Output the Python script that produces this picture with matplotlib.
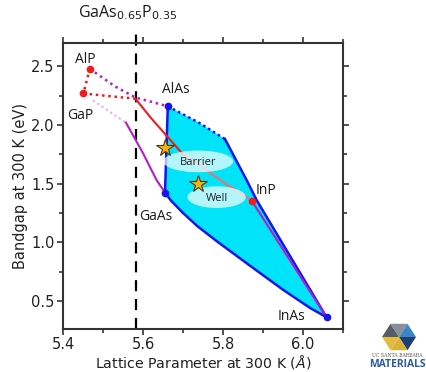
import numpy as np
import matplotlib
matplotlib.use('Agg')
import matplotlib.pyplot as plt
from matplotlib.patches import Ellipse, Polygon
from matplotlib.ticker import MultipleLocator

# binary compounds: lattice constant (A), bandgap (eV)
names = ['AlP', 'GaP', 'AlAs', 'GaAs', 'InP', 'InAs']
lat = {'AlP': 5.467, 'GaP': 5.451, 'AlAs': 5.662, 'GaAs': 5.655, 'InP': 5.872, 'InAs': 6.059}
gap = {'AlP': 2.48, 'GaP': 2.27, 'AlAs': 2.16, 'GaAs': 1.424, 'InP': 1.353, 'InAs': 0.36}

# GaInP (indirect part dotted, direct part solid)
gainp_ind_x = [5.451, 5.520, 5.581]
gainp_ind_y = [2.27, 2.245, 2.225]
gainp_x = [5.581, 5.620, 5.660, 5.700]
gainp_y = [2.225, 2.06, 1.905, 1.75]
gainp_fade_x = [5.700, 5.734, 5.770, 5.809, 5.872]
gainp_fade_y = [1.75, 1.68, 1.585, 1.495, 1.353]

# AlAsP (dotted)
alasp_x = [5.467, 5.530, 5.581, 5.662]
alasp_y = [2.48, 2.33, 2.235, 2.16]

# GaAsP
gaasp_ind_x = [5.475, 5.5575]
gaasp_ind_y = [2.21, 2.02]
gaasp_x = [5.5575, 5.600, 5.634, 5.655]
gaasp_y = [2.02, 1.76, 1.53, 1.424]

# InAsP
inasp_x = [5.872, 6.059]
inasp_y = [1.353, 0.36]

# AlInAs indirect (dotted) and direct edge
alinas_ind_x = [5.662, 5.740, 5.805]
alinas_ind_y = [2.16, 2.02, 1.88]
alinas_x = [5.805, 5.859, 5.884, 6.059]
alinas_y = [1.88, 1.531, 1.36, 0.36]

# AlGaAs edge
algaas_x = [5.662, 5.655]
algaas_y = [2.16, 1.424]

# GaInAs (bowed)
gainas_x = [5.655, 5.670, 5.700, 5.735, 5.784, 5.8675, 5.950, 6.0175, 6.059]
gainas_y = [1.424, 1.355, 1.25, 1.14, 1.01, 0.80, 0.595, 0.44, 0.36]

stars_x = [5.655, 5.738]
stars_y = [1.80, 1.50]

gaasp_line = 5.582

red = '#ee1c1c'
blue = '#1414f0'
purple = '#b41ec8'
cyan = '#00e3f8'
ann_font = ['Open Sans', 'DejaVu Sans']

plt.rcParams['font.family'] = 'DejaVu Sans'
fig = plt.figure(figsize=(4.26, 3.72), dpi=100)
ax = fig.add_axes([63/426, 1 - 329/372, 280/426, 286/372])

# filled quaternary region
poly_x = algaas_x[:1] + alinas_ind_x[1:] + alinas_x[1:] + gainas_x[::-1][1:]
poly_y = algaas_y[:1] + alinas_ind_y[1:] + alinas_y[1:] + gainas_y[::-1][1:]
ax.add_patch(Polygon(np.column_stack([poly_x, poly_y]), closed=True,
                     facecolor=cyan, edgecolor='none', zorder=1))

ax.plot(gainas_x, gainas_y, color=blue, lw=1.8, zorder=3)
ax.plot(alinas_x, alinas_y, color=blue, lw=1.8, zorder=3)
ax.plot(alinas_ind_x, alinas_ind_y, color=blue, lw=1.8, ls=(0, (1, 1.3)), zorder=3)
ax.plot(algaas_x, algaas_y, color=blue, lw=1.8, zorder=3)

ax.plot(gaasp_ind_x, gaasp_ind_y, color='#e8a8ec', lw=1.5, ls=(0, (1, 1.5)), zorder=3)
ax.plot(gaasp_x, gaasp_y, color=purple, lw=1.5, zorder=3)
ax.plot(inasp_x, inasp_y, color=purple, lw=1.5, zorder=4)
ax.plot(alasp_x, alasp_y, color=purple, lw=1.8, ls=(0, (1, 1.5)), zorder=3)

ax.plot([lat['AlP'], lat['GaP']], [gap['AlP'], gap['GaP']], color=red, lw=1.8,
        ls=(0, (1, 1.5)), zorder=3)
ax.plot(gainp_ind_x, gainp_ind_y, color=red, lw=1.8, ls=(0, (1, 1.5)), zorder=3)
ax.plot(gainp_x, gainp_y, color=red, lw=1.5, zorder=3)
ax.plot(gainp_fade_x, gainp_fade_y, color='#f07070', lw=1.5, zorder=3)

for n in names:
    c = red if n in ('AlP', 'GaP', 'InP') else blue
    ax.plot(lat[n], gap[n], 'o', color=c, ms=4.5, zorder=6)

ax.axvline(gaasp_line, ymin=0, ymax=1.055, color='black', lw=1.6, ls=(0, (5, 3.5)),
           zorder=2, clip_on=False)

ax.add_patch(Ellipse((5.738, 1.69), 0.175, 0.185, facecolor='white', alpha=0.7,
                     edgecolor='none', zorder=5))
ax.add_patch(Ellipse((5.784, 1.385), 0.146, 0.185, facecolor='white', alpha=0.7,
                     edgecolor='none', zorder=5))
ax.text(5.738, 1.68, 'Barrier', fontsize=8, ha='center', va='center', color='#222222',
        zorder=7, family=ann_font)
ax.text(5.784, 1.375, 'Well', fontsize=8, ha='center', va='center', color='#222222',
        zorder=7, family=ann_font)

ax.plot(stars_x, stars_y, '*', ms=13, mfc='#f6b40e', mec='#4a3a10', mew=0.8, zorder=8)

lbl_pos = {'AlP': (5.455, 2.56), 'GaP': (5.443, 2.08), 'AlAs': (5.683, 2.30),
           'GaAs': (5.633, 1.22), 'InP': (5.907, 1.445), 'InAs': (5.972, 0.37)}
for n in names:
    ax.text(lbl_pos[n][0], lbl_pos[n][1], n, fontsize=10, ha='center', va='center',
            color='#1a1a1a', zorder=9, family=ann_font)

ax.text(5.562, 1.072, r'GaAs$_{0.65}$P$_{0.35}$', transform=ax.get_xaxis_transform(),
        fontsize=11.5, ha='center', va='bottom', color='#1a1a1a', family=ann_font)

ax.set_xlim(5.4, 6.1)
ax.set_ylim(0.26, 2.7)
ax.xaxis.set_major_locator(MultipleLocator(0.2))
ax.xaxis.set_minor_locator(MultipleLocator(0.1))
ax.yaxis.set_major_locator(MultipleLocator(0.5))
ax.yaxis.set_minor_locator(MultipleLocator(0.25))
ax.tick_params(which='both', top=True, right=True, direction='out', color='#333333',
               labelsize=10.5, labelcolor='#222222', width=1.2, pad=2)
ax.tick_params(which='major', length=4)
ax.tick_params(which='minor', length=3)
for s in ax.spines.values():
    s.set_linewidth(1.5)
    s.set_color('#333333')
ax.set_xlabel('Lattice Parameter at 300 K ($\\mathit{Å}$)', fontsize=10.2, color='#222222')
ax.xaxis.set_label_coords(0.5, -0.083)
ax.set_ylabel('Bandgap at 300 K (eV)', fontsize=10.5, color='#222222', labelpad=2)

# logo, drawn in pixel units
lax = fig.add_axes([366/426, 0, 60/426, 60/372])
lax.set_xlim(366, 426)
lax.set_ylim(372, 312)
lax.axis('off')
cx, cy, r = 399, 337, 17
ang = np.deg2rad(180 - 60 * np.arange(7))
hx, hy = cx + r * np.cos(ang), cy - 0.9 * r * np.sin(ang)
cols = ['#565d66', '#8a9098', '#3d86c6', '#1f3f72', '#d9b23a', '#e2bc3e']
for i in range(6):
    lax.add_patch(Polygon([[cx, cy], [hx[i], hy[i]], [hx[i+1], hy[i+1]]],
                          facecolor=cols[i], edgecolor='none'))
lax.text(397, 355.5, 'UC SANTA BARBARA', fontsize=3.3, ha='center', va='center',
         color='#555555', family='DejaVu Serif')
lax.text(397, 364.5, 'MATERIALS', fontsize=7.5, ha='center', va='center',
         color='#2a5aa8', fontweight='bold', family='Open Sans')

fig.savefig('out.png', dpi=100)
